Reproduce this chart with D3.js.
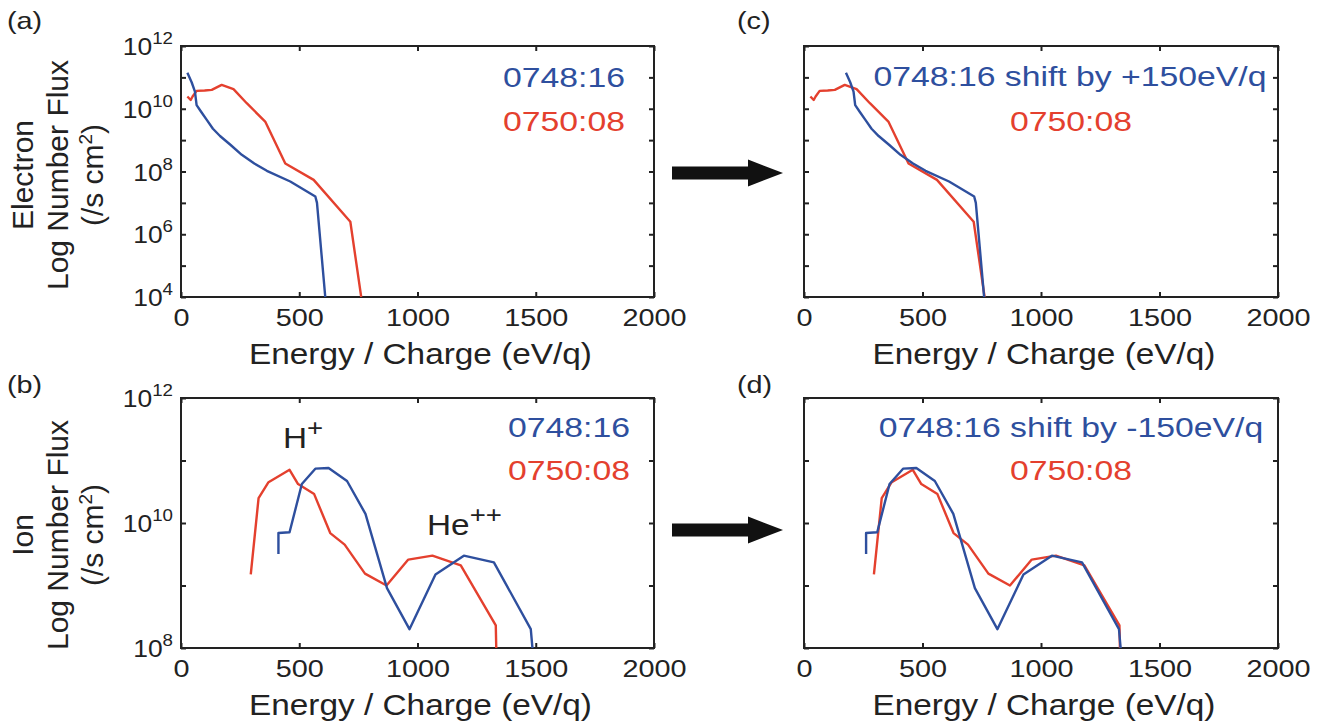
<!DOCTYPE html>
<html><head><meta charset="utf-8">
<script src="https://cdn.jsdelivr.net/npm/d3@7"></script>
<style>
body{margin:0;background:#fff}
svg{display:block}
text{font-family:"Liberation Sans",Arial,Helvetica,sans-serif}
</style>
</head><body>
<svg id="chart" width="1321" height="721"></svg>
<script>
// ---------------- data ----------------
const energyTicks = [0, 500, 1000, 1500, 2000];
const elecLabelExps = [4, 6, 8, 10, 12];
const ionLabelExps = [8, 10, 12];
const seriesNames = ["0748:16", "0750:08"];
const shiftC = 150;   // eV/q, panel (c)
const shiftD = -150;  // eV/q, panel (d)

// Electron, 0748:16
const elecE0748 = [27, 45, 59, 66, 85, 109, 135, 165, 210, 257, 310, 363, 462, 568, 575, 610];
const elecF0748 = [1.4e11, 7.0e10, 3.5e10, 1.3e10, 8.0e9, 4.4e9, 2.3e9, 1.35e9, 7.0e8, 3.4e8, 1.8e8, 1.05e8, 4.8e7, 1.6e7, 1.0e7, 1e4];
// Electron, 0750:08
const elecE0750 = [27, 41, 49, 66, 100, 130, 172, 222, 278, 356, 441, 561, 716, 762];
const elecF0750 = [2.45e10, 1.9e10, 2.45e10, 3.7e10, 3.8e10, 4.0e10, 5.75e10, 4.2e10, 1.5e10, 3.9e9, 1.8e8, 5.4e7, 2.5e6, 1e4];
// Ion, 0748:16
const ionE0748 = [412, 412, 459, 511, 568, 624, 702, 780, 871, 966, 1076, 1196, 1323, 1479, 1486];
const ionF0748 = [3.2e9, 6.9e9, 7.1e9, 4.2e10, 7.4e10, 7.6e10, 4.7e10, 1.4e10, 9.1e8, 2.0e8, 1.5e9, 3.0e9, 2.35e9, 2.0e8, 1e8];
// Ion, 0750:08
const ionE0750 = [295, 328, 370, 459, 495, 563, 631, 692, 778, 869, 961, 1063, 1183, 1331, 1333];
const ionF0750 = [1.5e9, 2.5e10, 4.5e10, 7.1e10, 4.2e10, 2.9e10, 6.9e9, 4.5e9, 1.55e9, 1.0e9, 2.6e9, 3.0e9, 2.1e9, 2.3e8, 1e8];

// ---------------- styles ----------------
const BLUE = "#2e4f9e", RED = "#e4402e", INK = "#222";
const FONT_SX = 1.2;

const svg = d3.select("#chart");

function stext(parent, x, y, size, sx, anchor, fill) {
  const g = parent.append("g").attr("transform", `translate(${x},${y}) scale(${sx},1)`);
  return g.append("text").attr("x", 0).attr("y", 0)
    .attr("font-size", size).attr("text-anchor", anchor).attr("fill", fill);
}

function zip(es, fs, shift) { return es.map((e, i) => ({ e: e + shift, f: fs[i] })); }

const panels = [
  { id: "a", x0: 181, x1: 654, y0: 46, y1: 297, dom: [1e4, 1e12], labels: elecLabelExps,
    lx: 7, ly: 29,
    blue: zip(elecE0748, elecF0748, 0), red: zip(elecE0750, elecF0750, 0),
    legend: [{ t: seriesNames[0], x: 503, y: 87, c: BLUE, a: "start" }, { t: seriesNames[1], x: 503, y: 131, c: RED, a: "start" }] },
  { id: "c", x0: 804, x1: 1278, y0: 46, y1: 297, dom: [1e4, 1e12], labels: [],
    lx: 737, ly: 29,
    blue: zip(elecE0748, elecF0748, shiftC), red: zip(elecE0750, elecF0750, 0),
    legend: [{ t: `${seriesNames[0]} shift by +${shiftC}eV/q`, x: 1070, y: 86, c: BLUE, a: "middle" }, { t: seriesNames[1], x: 1071, y: 131, c: RED, a: "middle" }] },
  { id: "b", x0: 181, x1: 654, y0: 398, y1: 648, dom: [1e8, 1e12], labels: ionLabelExps,
    lx: 7, ly: 393,
    blue: zip(ionE0748, ionF0748, 0), red: zip(ionE0750, ionF0750, 0),
    legend: [{ t: seriesNames[0], x: 508, y: 437, c: BLUE, a: "start" }, { t: seriesNames[1], x: 508, y: 480, c: RED, a: "start" }] },
  { id: "d", x0: 804, x1: 1278, y0: 398, y1: 648, dom: [1e8, 1e12], labels: [],
    lx: 737, ly: 393,
    blue: zip(ionE0748, ionF0748, shiftD), red: zip(ionE0750, ionF0750, 0),
    legend: [{ t: `${seriesNames[0]} shift by ${shiftD}eV/q`, x: 1071, y: 437, c: BLUE, a: "middle" }, { t: seriesNames[1], x: 1071, y: 480, c: RED, a: "middle" }] }
];

panels.forEach(p => {
  const x = d3.scaleLinear().domain([0, 2000]).range([p.x0, p.x1]);
  const y = d3.scaleLog().domain(p.dom).range([p.y1, p.y0]);
  const lo = Math.round(Math.log10(p.dom[0])), hi = Math.round(Math.log10(p.dom[1]));
  const decades = d3.range(lo, hi + 1).map(k => Math.pow(10, k));
  const g = svg.append("g");

  const cid = "clip" + p.id;
  svg.append("clipPath").attr("id", cid).append("rect")
    .attr("x", p.x0).attr("y", p.y0).attr("width", p.x1 - p.x0).attr("height", p.y1 - p.y0);

  const ax = [
    { a: d3.axisBottom(x).tickValues(energyTicks).tickSizeInner(-5).tickSizeOuter(0).tickPadding(12).tickFormat(d3.format("d")), t: `translate(0,${p.y1})`, lab: true },
    { a: d3.axisTop(x).tickValues(energyTicks).tickSizeInner(-5).tickSizeOuter(0).tickFormat(""), t: `translate(0,${p.y0})` },
    { a: d3.axisLeft(y).tickValues(decades).tickSizeInner(-5).tickSizeOuter(0).tickFormat(""), t: `translate(${p.x0},0)` },
    { a: d3.axisRight(y).tickValues(decades).tickSizeInner(-5).tickSizeOuter(0).tickFormat(""), t: `translate(${p.x1},0)` }
  ];
  ax.forEach(o => {
    const ag = g.append("g").attr("transform", o.t).call(o.a);
    ag.select(".domain").remove();
    ag.selectAll(".tick line").attr("stroke", INK).attr("stroke-width", 2);
    if (o.lab) {
      ag.selectAll(".tick text").attr("font-size", 24).attr("fill", INK)
        .attr("font-family", "Liberation Sans, Arial, sans-serif")
        .attr("transform", `scale(${FONT_SX},1)`)
        .attr("dy", "0.71em");
    }
  });
  g.append("rect").attr("x", p.x0).attr("y", p.y0).attr("width", p.x1 - p.x0).attr("height", p.y1 - p.y0)
    .attr("fill", "none").attr("stroke", INK).attr("stroke-width", 2);

  p.labels.forEach(k => {
    const t = stext(g, p.x0 - 8, y(Math.pow(10, k)) + 9, 24, 1.1, "end", INK);
    t.append("tspan").text("10");
    t.append("tspan").attr("font-size", 17).attr("dy", -11).text(k);
  });

  stext(g, (p.x0 + p.x1) / 2 + 3, p.y1 + 67, 29, 1.15, "middle", INK).text("Energy / Charge (eV/q)");

  const line = d3.line().x(d => x(d.e)).y(d => y(d.f));
  const lg = g.append("g").attr("clip-path", `url(#${cid})`);
  lg.append("path").datum(p.red).attr("d", line).attr("fill", "none").attr("stroke", RED)
    .attr("stroke-width", 2.4).attr("stroke-linejoin", "round");
  lg.append("path").datum(p.blue).attr("d", line).attr("fill", "none").attr("stroke", BLUE)
    .attr("stroke-width", 2.4).attr("stroke-linejoin", "round");

  p.legend.forEach(l => { stext(g, l.x, l.y, 27, 1.25, l.a, l.c).text(l.t); });

  stext(g, p.lx, p.ly, 24, 1.2, "start", INK).text(`(${p.id})`);
});

function yTitle(cy, first) {
  const g = svg.append("g").attr("transform", `translate(0,${cy}) rotate(-90)`);
  g.append("text").attr("y", 33).attr("text-anchor", "middle").attr("font-size", 30).attr("fill", INK).text(first);
  g.append("text").attr("y", 68).attr("text-anchor", "middle").attr("font-size", 30).attr("fill", INK).text("Log Number Flux");
  const t = g.append("text").attr("y", 103).attr("text-anchor", "middle").attr("font-size", 30).attr("fill", INK);
  t.append("tspan").text("(/s cm");
  t.append("tspan").attr("font-size", 19).attr("dy", -11).text("2");
  t.append("tspan").attr("dy", 11).text(")");
}
yTitle(175, "Electron");
yTitle(535, "Ion");

const hp = stext(svg, 283, 448, 29, 1.15, "start", INK);
hp.append("tspan").text("H");
hp.append("tspan").attr("font-size", 24).attr("dy", -12).text("+");
const he = stext(svg, 427, 535, 29, 1.15, "start", INK);
he.append("tspan").text("He");
he.append("tspan").attr("font-size", 24).attr("dy", -12).text("++");

function arrow(cy) {
  const x0 = 672, xs = 748, xt = 783, hw = 6.5, hh = 13.5;
  svg.append("path")
    .attr("d", `M${x0},${cy - hw}L${xs},${cy - hw}L${xs},${cy - hh}L${xt},${cy}L${xs},${cy + hh}L${xs},${cy + hw}L${x0},${cy + hw}Z`)
    .attr("fill", "#111");
}
arrow(173);
arrow(530);
</script>
</body></html>
